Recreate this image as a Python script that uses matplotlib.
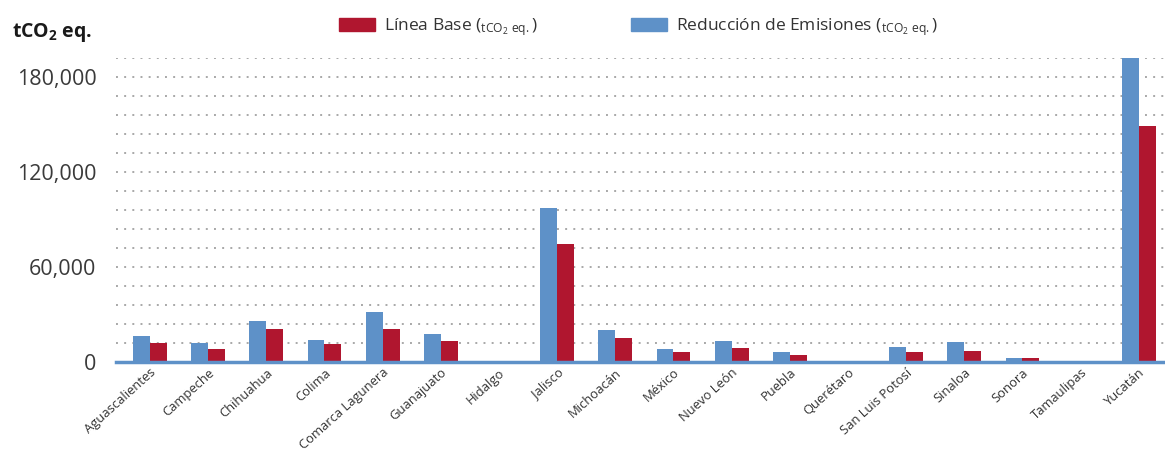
import matplotlib
matplotlib.use("Agg")
import matplotlib.pyplot as plt
from matplotlib.patches import Patch
from matplotlib.ticker import FuncFormatter, MultipleLocator
import numpy as np

plt.rcParams['font.family'] = ['Open Sans', 'DejaVu Sans']
plt.rcParams['mathtext.fontset'] = 'custom'
plt.rcParams['mathtext.rm'] = 'Open Sans'
plt.rcParams['mathtext.it'] = 'Open Sans:italic'
plt.rcParams['mathtext.bf'] = 'Open Sans:bold'

categories = ["Aguascalientes", "Campeche", "Chihuahua", "Colima", "Comarca Lagunera",
              "Guanajuato", "Hidalgo", "Jalisco", "Michoacán", "México", "Nuevo León",
              "Puebla", "Querétaro", "San Luis Potosí", "Sinaloa", "Sonora",
              "Tamaulipas", "Yucatán"]
reduccion = [16400, 12000, 25800, 13900, 31500, 17800, 0, 97100, 20200, 8200,
             13200, 6300, 0, 9500, 12600, 2600, 0, 192500]
linea_base = [12000, 8200, 20800, 11300, 20800, 13200, 0, 74400, 15100, 6300,
              8800, 4400, 0, 6300, 6900, 2500, 0, 148800]
ytick_values = [0, 60000, 120000, 180000]

BLUE = "#5E91C8"
RED = "#B0162F"
TXT = "#333333"

fig = plt.figure(figsize=(11.65, 4.55), dpi=100)
ax = fig.add_axes([116/1165, 1-362/455, 1-116/1165, (362-57.5)/455])

x = np.arange(len(categories))
w = 0.29
ax.bar(x - w/2, reduccion, width=w, color=BLUE, zorder=3, label="Reducción de Emisiones")
ax.bar(x + w/2, linea_base, width=w, color=RED, zorder=3, label="Línea Base")

ax.set_ylim(0, 192000)
ax.set_xlim(-0.584, 17.45)
ax.yaxis.set_minor_locator(MultipleLocator(12000))
ax.set_yticks(ytick_values)
ax.yaxis.set_major_formatter(FuncFormatter(lambda v, p: f"{int(v):,}"))
ax.grid(axis='y', which='both', linestyle=(0, (1, 3.2)), color="#A8A8A8", linewidth=1.4, zorder=0)
ax.grid(axis='x', visible=False)
for s in ['top', 'right', 'left']:
    ax.spines[s].set_visible(False)
ax.spines['bottom'].set_color(BLUE)
ax.spines['bottom'].set_linewidth(2.5)
ax.spines['bottom'].set_zorder(4)

ax.tick_params(axis='y', which='both', length=0, pad=14, labelsize=15.5, labelcolor="#3a3a3a")
ax.tick_params(axis='x', length=0, pad=3, labelsize=9.4, labelcolor=TXT)
ax.set_xticks(x)
ax.set_xticklabels(categories, rotation=42, ha='right', va='top', rotation_mode='anchor')

fig.text(12/1165, 1-32/455, "tCO$_{\\mathbf{2}}$ eq.", fontsize=14, fontweight='bold',
         color="#1a1a1a", va='center', ha='left')

handles = [Patch(color=RED), Patch(color=BLUE)]
labels = [r"Línea Base ($_{\mathrm{tCO_2\ eq.}}$)",
          r"Reducción de Emisiones ($_{\mathrm{tCO_2\ eq.}}$)"]

fig.legend(handles, labels, loc='center left', bbox_to_anchor=(323/1165, 1-27/455),
           ncol=2, frameon=False, fontsize=12.5, handlelength=2.1, handleheight=0.8,
           handletextpad=0.5, columnspacing=5.4, labelcolor=TXT)

fig.savefig("out.png", dpi=100)
